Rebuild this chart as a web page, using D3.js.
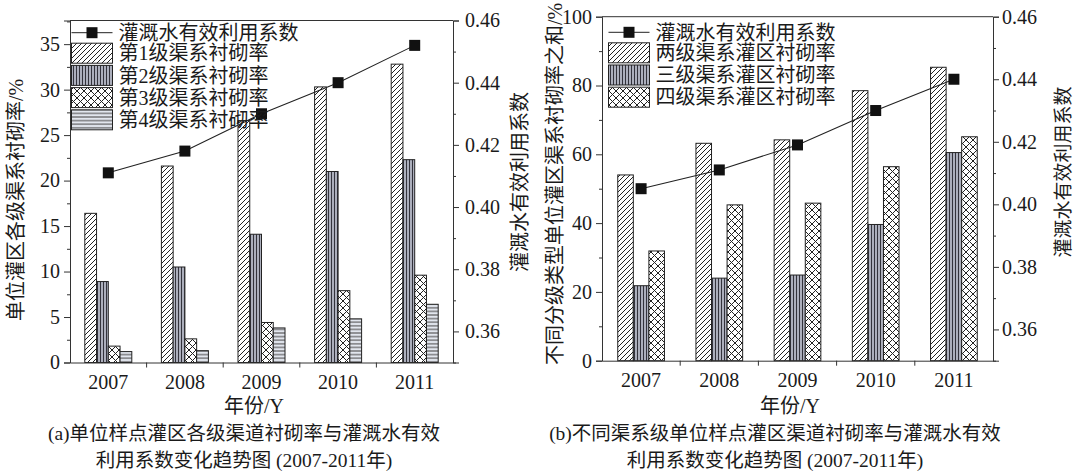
<!DOCTYPE html>
<html><head><meta charset="utf-8">
<script src="https://cdn.jsdelivr.net/npm/d3@7"></script>
<style>
html,body{margin:0;padding:0;background:#fff;}
svg text{font-family:"Liberation Serif","Noto Sans CJK SC",serif;fill:#1a1a1a;}
</style></head>
<body>
<svg id="chart" width="1074" height="472"></svg>
<script>
// ---------- data ----------
const years = ["2007", "2008", "2009", "2010", "2011"];
const effName = "灌溉水有效利用系数";
const seriesNamesA = ["第1级渠系衬砌率", "第2级渠系衬砌率", "第3级渠系衬砌率", "第4级渠系衬砌率"];
const a1 = [16.4, 21.6, 26.6, 30.3, 32.8];
const a2 = [8.9, 10.5, 14.1, 21.0, 22.3];
const a3 = [1.8, 2.6, 4.4, 7.9, 9.6];
const a4 = [1.2, 1.3, 3.8, 4.8, 6.4];
const effA = [0.411, 0.418, 0.430, 0.440, 0.452];
const seriesNamesB = ["两级渠系灌区衬砌率", "三级渠系灌区衬砌率", "四级渠系灌区衬砌率"];
const b1 = [54.0, 63.2, 64.2, 78.5, 85.3];
const b2 = [21.8, 24.0, 24.9, 39.6, 60.5];
const b3 = [31.9, 45.3, 45.8, 56.4, 65.1];
const effB = [0.405, 0.411, 0.419, 0.430, 0.440];
const leftTicksA = [0, 5, 10, 15, 20, 25, 30, 35];
const leftTicksB = [0, 20, 40, 60, 80, 100];
const rightTicks = [0.36, 0.38, 0.40, 0.42, 0.44, 0.46];

const svg = d3.select("#chart");
const defs = svg.append("defs");

// patterns
function pat(id, w, h, bg, draw) {
  const p = defs.append("pattern").attr("id", id).attr("patternUnits", "userSpaceOnUse")
    .attr("width", w).attr("height", h);
  p.append("rect").attr("width", w).attr("height", h).attr("fill", bg);
  draw(p);
}
pat("pDiag", 5, 5, "#fff", p => p.append("path")
  .attr("d", "M-1,1 L1,-1 M0,5 L5,0 M4,6 L6,4").attr("stroke", "#222").attr("stroke-width", 1));
pat("pVert", 3, 4, "#b9bdca", p => p.append("line")
  .attr("x1", 1.5).attr("x2", 1.5).attr("y1", 0).attr("y2", 4).attr("stroke", "#33333c").attr("stroke-width", 1.2));
pat("pCross", 7, 7, "#fff", p => p.append("path")
  .attr("d", "M0,0 L7,7 M7,0 L0,7 M-1,6 L1,8 M6,-1 L8,1 M-1,1 L1,-1 M6,8 L8,6").attr("stroke", "#222").attr("stroke-width", 1));
pat("pHoriz", 4, 3.6, "#e2e6ee", p => p.append("line")
  .attr("x1", 0).attr("x2", 4).attr("y1", 1.8).attr("y2", 1.8).attr("stroke", "#444").attr("stroke-width", 1));

function panel(cfg) {
  const g = svg.append("g");
  const x = d3.scaleBand().domain(years).range([cfg.x0, cfg.x1]).paddingInner(0).paddingOuter(0);
  const yL = d3.scaleLinear().domain(cfg.leftDomain).range([cfg.yBot, cfg.yTop]);
  const yR = d3.scaleLinear().domain([0.35, 0.46]).range([cfg.yBot, cfg.yTop]);
  const inner = d3.scaleBand().domain(d3.range(cfg.series.length))
    .range([-cfg.groupW / 2, cfg.groupW / 2]);

  // bars
  cfg.series.forEach((vals, si) => {
    g.append("g").selectAll("rect").data(vals).join("rect")
      .attr("x", (d, i) => x(years[i]) + x.bandwidth() / 2 + inner(si))
      .attr("width", inner.bandwidth())
      .attr("y", d => yL(d))
      .attr("height", d => yL(cfg.leftDomain[0]) - yL(d))
      .attr("fill", `url(#${cfg.patterns[si]})`)
      .attr("stroke", "#222").attr("stroke-width", 1);
  });

  // frame top line
  g.append("line").attr("x1", cfg.x0).attr("x2", cfg.x1).attr("y1", cfg.yTop).attr("y2", cfg.yTop)
    .attr("stroke", "#333").attr("stroke-width", 1);

  // left axis
  const axL = d3.axisLeft(yL).tickValues(cfg.leftTicks).tickSize(6).tickPadding(4).tickFormat(d3.format("d"));
  const gl = g.append("g").attr("transform", `translate(${cfg.x0},0)`).call(axL);
  const minorL = d3.axisLeft(yL).tickValues(cfg.leftMinor).tickSize(3).tickFormat("");
  g.append("g").attr("transform", `translate(${cfg.x0},0)`).call(minorL).select(".domain").remove();

  // right axis
  const axR = d3.axisRight(yR).tickValues(rightTicks).tickSize(6).tickPadding(cfg.rPad).tickFormat(d3.format(".2f"));
  const gr = g.append("g").attr("transform", `translate(${cfg.x1},0)`).call(axR);
  const minorR = d3.axisRight(yR).tickValues([0.35, 0.37, 0.39, 0.41, 0.43, 0.45]).tickSize(3).tickFormat("");
  g.append("g").attr("transform", `translate(${cfg.x1},0)`).call(minorR).select(".domain").remove();

  // bottom axis
  const axB = d3.axisBottom(x).tickSize(0).tickPadding(12);
  const gb = g.append("g").attr("transform", `translate(0,${cfg.yBot})`).call(axB);
  const bounds = years.slice(1).map(yv => x(yv));
  g.append("g").selectAll("line").data(bounds).join("line")
    .attr("x1", d => d).attr("x2", d => d).attr("y1", cfg.yBot).attr("y2", cfg.yBot + 5)
    .attr("stroke", "#333");

  [gl, gr, gb].forEach(a => {
    a.selectAll("text").attr("font-size", 20).attr("font-family", "Liberation Serif").attr("fill", "#1a1a1a");
    a.selectAll("line").attr("stroke", "#333");
    a.select(".domain").attr("stroke", "#333").attr("stroke-width", 1);
  });
  g.selectAll(".tick line").attr("stroke", "#333");

  // line + markers
  const pts = cfg.eff.map((v, i) => [x(years[i]) + x.bandwidth() / 2, yR(v)]);
  g.append("path").attr("d", d3.line()(pts)).attr("fill", "none").attr("stroke", "#222").attr("stroke-width", 1.1);
  g.append("g").selectAll("rect").data(pts).join("rect")
    .attr("x", d => d[0] - 5.5).attr("y", d => d[1] - 5.5).attr("width", 11).attr("height", 11)
    .attr("fill", "#111");

  // legend
  const lx = cfg.x0 + cfg.legDx, ly = cfg.legY;
  const lg = g.append("g");
  lg.append("line").attr("x1", lx).attr("x2", lx + 41).attr("y1", ly).attr("y2", ly).attr("stroke", "#222");
  lg.append("rect").attr("x", lx + 20.5 - 5.5).attr("y", ly - 5.5).attr("width", 11).attr("height", 11).attr("fill", "#111");
  lg.append("text").attr("x", lx + 47).attr("y", ly).attr("dy", "0.36em").attr("font-size", 20).text(effName);
  cfg.names.forEach((n, i) => {
    const yy = ly + 10.5 + i * 22.2;
    lg.append("rect").attr("x", lx).attr("y", yy).attr("width", 41).attr("height", 20)
      .attr("fill", `url(#${cfg.patterns[i]})`).attr("stroke", "#222");
    lg.append("text").attr("x", lx + 47).attr("y", yy + 10).attr("dy", "0.36em").attr("font-size", 20).text(n);
  });

  // axis titles
  g.append("text").attr("transform", `translate(${cfg.ltX},${cfg.ltY}) rotate(-90)`)
    .attr("text-anchor", "middle").attr("dy", "0.36em").attr("font-size", 20).text(cfg.leftTitle);
  g.append("text").attr("transform", `translate(${cfg.rtX},${cfg.rtY}) rotate(-90)`)
    .attr("text-anchor", "middle").attr("dy", "0.36em").attr("font-size", cfg.rtSize).text(effName);
  g.append("text").attr("x", cfg.xtX).attr("y", 406).attr("dy", "0.36em").attr("text-anchor", "middle")
    .attr("font-size", 20).text("年份/Y");
  cfg.caption.forEach((c, i) => {
    g.append("text").attr("x", cfg.capX).attr("y", 433 + i * 27).attr("dy", "0.36em").attr("text-anchor", "middle")
      .attr("font-size", 19.5).text(c);
  });
}

panel({
  x0: 70, x1: 453, yTop: 20.5, yBot: 362.5,
  leftDomain: [0, 37.6], leftTicks: leftTicksA, leftMinor: [2.5, 7.5, 12.5, 17.5, 22.5, 27.5, 32.5, 37.5],
  series: [a1, a2, a3, a4], patterns: ["pDiag", "pVert", "pCross", "pHoriz"], names: seriesNamesA,
  groupW: 47, eff: effA, rPad: 6,
  legDx: 1.5, legY: 32.7,
  leftTitle: "单位灌区各级渠系衬砌率/%", ltX: 16, ltY: 200,
  rtX: 520, rtY: 182, rtSize: 20, xtX: 254,
  caption: ["(a)单位样点灌区各级渠道衬砌率与灌溉水有效", "利用系数变化趋势图 (2007-2011年)"], capX: 244
});
panel({
  x0: 602, x1: 993, yTop: 16.7, yBot: 360.7,
  leftDomain: [0, 100], leftTicks: leftTicksB, leftMinor: [10, 30, 50, 70, 90],
  series: [b1, b2, b3], patterns: ["pDiag", "pVert", "pCross"], names: seriesNamesB,
  groupW: 46.7, eff: effB, rPad: 3,
  legDx: 6.5, legY: 32.3,
  leftTitle: "不同分级类型单位灌区渠系衬砌率之和/%", ltX: 555, ltY: 184,
  rtX: 1063, rtY: 172, rtSize: 19, xtX: 790,
  caption: ["(b)不同渠系级单位样点灌区渠道衬砌率与灌溉水有效", "利用系数变化趋势图  (2007-2011年)"], capX: 775
});
</script>
</body></html>
